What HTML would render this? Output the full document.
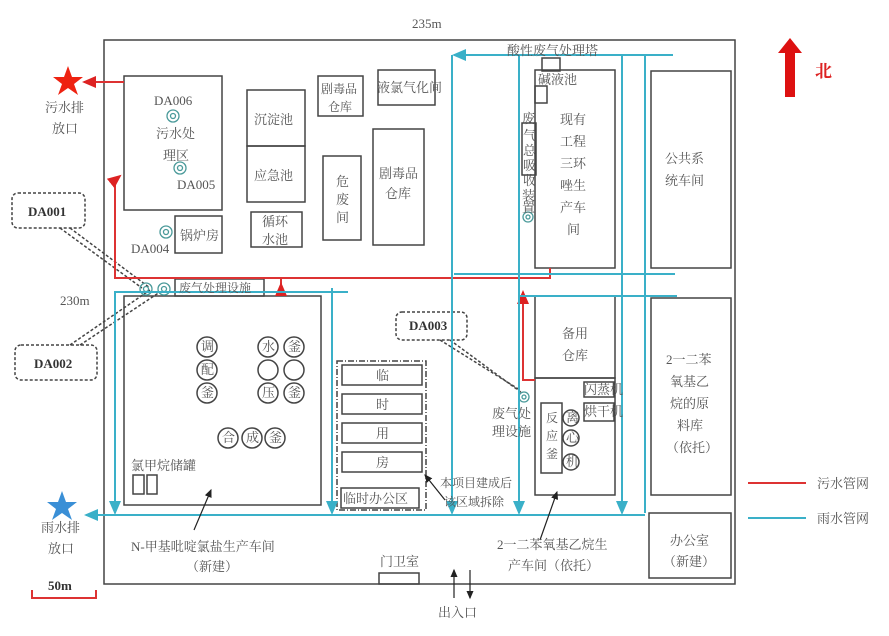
<!DOCTYPE html>
<html><head><meta charset="utf-8"><style>
html,body{margin:0;padding:0;background:#fff}
svg{display:block}
text{font-family:"Liberation Serif","Noto Serif CJK SC","Noto Sans CJK SC",serif;fill:#555;font-size:13px}
.b{font-weight:bold;fill:#333}
</style></head><body>
<svg width="889" height="636" viewBox="0 0 889 636" xmlns="http://www.w3.org/2000/svg">
<defs>
<marker id="ac" markerWidth="8" markerHeight="8" refX="6" refY="4" orient="auto"><path d="M0,1 L7,4 L0,7z" fill="#3ab0c8"/></marker>
<marker id="ar" markerWidth="8" markerHeight="8" refX="6" refY="4" orient="auto"><path d="M0,1 L7,4 L0,7z" fill="#d22"/></marker>
<marker id="ak" markerWidth="8" markerHeight="8" refX="6" refY="4" orient="auto"><path d="M0,1 L7,4 L0,7z" fill="#222"/></marker>
</defs>
<g fill="none" stroke="#444" stroke-width="1.5">
<rect x="104" y="40" width="631" height="544"/>
<rect x="124" y="76" width="98" height="134"/>
<rect x="247" y="90" width="58" height="56"/><rect x="247" y="146" width="58" height="56"/>
<rect x="318" y="76" width="45" height="40"/><rect x="378" y="70" width="57" height="35"/>
<rect x="323" y="156" width="38" height="84"/><rect x="373" y="129" width="51" height="116"/>
<rect x="251" y="212" width="51" height="35"/><rect x="175" y="216" width="47" height="37"/>
<rect x="175" y="279" width="89" height="17"/>
<rect x="124" y="296" width="197" height="209"/>
<rect x="133" y="475" width="11" height="19"/><rect x="147" y="475" width="10" height="19"/>
<rect x="342" y="365" width="80" height="20"/><rect x="342" y="394" width="80" height="20"/>
<rect x="342" y="423" width="80" height="20"/><rect x="342" y="452" width="80" height="20"/>
<rect x="341" y="488" width="78" height="20"/>
<rect x="535" y="70" width="80" height="198"/><rect x="542" y="58" width="18" height="13"/><rect x="535" y="86" width="12" height="17"/>
<rect x="522" y="123" width="14" height="52"/>
<rect x="535" y="296" width="80" height="82"/><rect x="535" y="378" width="80" height="117"/>
<rect x="541" y="403" width="21" height="70"/>
<rect x="584" y="382" width="30" height="15"/><rect x="584" y="403" width="30" height="18"/>
<rect x="651" y="71" width="80" height="197"/><rect x="651" y="298" width="80" height="197"/><rect x="649" y="513" width="82" height="65"/>
<rect x="379" y="573" width="40" height="11"/>
</g>
<rect x="337" y="361" width="89" height="149" fill="none" stroke="#444" stroke-width="1.5" stroke-dasharray="6,2,1,2"/>
<g fill="none" stroke="#444" stroke-width="1.5" stroke-dasharray="3,2">
<rect x="12" y="193" width="73" height="35" rx="6"/><rect x="15" y="345" width="82" height="35" rx="6"/><rect x="396" y="312" width="71" height="28" rx="6"/>
<path d="M70,228 L150,288 M60,228 L142,288 M80,345 L160,292 M70,345 L150,290 M450,340 L522,393 M440,340 L520,390"/>
</g>
<!-- circles -->
<g fill="none" stroke="#444" stroke-width="1.5">
<circle cx="207" cy="347" r="10"/><circle cx="207" cy="370" r="10"/><circle cx="207" cy="393" r="10"/>
<circle cx="268" cy="347" r="10"/><circle cx="294" cy="347" r="10"/><circle cx="268" cy="370" r="10"/><circle cx="294" cy="370" r="10"/><circle cx="268" cy="393" r="10"/><circle cx="294" cy="393" r="10"/>
<circle cx="228" cy="438" r="10"/><circle cx="252" cy="438" r="10"/><circle cx="275" cy="438" r="10"/>
<circle cx="571" cy="418" r="8"/><circle cx="571" cy="438" r="8"/><circle cx="571" cy="462" r="8"/>
</g>
<g fill="none" stroke="#4a9a9a" stroke-width="1.3">
<circle cx="173" cy="116" r="6"/><circle cx="173" cy="116" r="2.5"/>
<circle cx="180" cy="168" r="6"/><circle cx="180" cy="168" r="2.5"/>
<circle cx="166" cy="232" r="6"/><circle cx="166" cy="232" r="2.5"/>
<circle cx="146" cy="289" r="6"/><circle cx="146" cy="289" r="2.5"/>
<circle cx="164" cy="289" r="6"/><circle cx="164" cy="289" r="2.5"/>
<circle cx="528" cy="217" r="5"/><circle cx="528" cy="217" r="2"/>
<circle cx="524" cy="397" r="5"/><circle cx="524" cy="397" r="2"/>
</g>
<!-- red pipes -->
<g fill="none" stroke="#d33" stroke-width="2">
<path d="M124,82 L84,82" marker-end="url(#ar)"/>
<path d="M550,268 L550,278 L115,278 L115,180 L120,176" marker-end="url(#ar)"/>
<path d="M281,278 L281,286"/><path d="M281,292 L281,284" marker-end="url(#ar)"/>
<path d="M535,380 L523,380 L523,292" marker-end="url(#ar)"/>
<path d="M748,483 L806,483"/>
<path d="M32,590 L32,598 L96,598 L96,590"/>
</g>
<!-- cyan pipes -->
<g fill="none" stroke="#3ab0c8" stroke-width="2">
<path d="M673,55 L454,55" marker-end="url(#ac)"/>
<path d="M452,55 L452,513" marker-end="url(#ac)"/>
<path d="M519,55 L519,513" marker-end="url(#ac)"/>
<path d="M622,55 L622,513" marker-end="url(#ac)"/>
<path d="M645,55 L645,513"/>
<path d="M675,274 L454,274"/>
<path d="M677,296 L520,296"/>
<path d="M348,292 L115,292 L115,513" marker-end="url(#ac)"/>
<path d="M332,288 L332,513" marker-end="url(#ac)"/>
<path d="M645,515 L86,515" marker-end="url(#ac)"/>
<path d="M748,518 L806,518"/>
</g>
<!-- black arrows -->
<g stroke="#222" stroke-width="1.2" fill="none">
<path d="M194,530 L211,490" marker-end="url(#ak)"/>
<path d="M445,500 L425,475" marker-end="url(#ak)"/>
<path d="M540,540 L557,492" marker-end="url(#ak)"/>
<path d="M454,598 L454,570" marker-end="url(#ak)"/>
<path d="M470,570 L470,598" marker-end="url(#ak)"/>
</g>
<!-- stars and north -->
<polygon points="68,66 72,77 83,77 74,84 78,95 68,88 58,95 62,84 53,77 64,77" fill="#e21"/>
<polygon points="62,491 66,502 77,502 68,509 72,520 62,513 52,520 56,509 47,502 58,502" fill="#3a8fd6"/>
<polygon points="790,38 802,53 795,53 795,97 785,97 785,53 778,53" fill="#d11"/>
<text x="815" y="77" style="font-size:17px;fill:#d22;font-weight:bold">北</text>
<!-- texts -->
<text x="412" y="28">235m</text>
<text x="60" y="305">230m</text>
<text x="45" y="112">污水排</text><text x="52" y="133">放口</text>
<text x="41" y="532">雨水排</text><text x="48" y="553">放口</text>
<text x="48" y="590" class="b">50m</text>
<text x="154" y="105">DA006</text><text x="156" y="138">污水处</text><text x="163" y="160">理区</text><text x="177" y="189">DA005</text>
<text x="131" y="253">DA004</text><text x="180" y="240">锅炉房</text>
<text x="254" y="124">沉淀池</text><text x="254" y="180">应急池</text>
<text x="321" y="93" style="font-size:12px">剧毒品</text><text x="328" y="111" style="font-size:12px">仓库</text>
<text x="377" y="92">液氯气化间</text>
<text x="336" y="186">危</text><text x="336" y="204">废</text><text x="336" y="222">间</text>
<text x="379" y="178">剧毒品</text><text x="385" y="198">仓库</text>
<text x="262" y="226">循环</text><text x="262" y="244">水池</text>
<text x="179" y="292" style="font-size:12px">废气处理设施</text>
<text x="28" y="216" class="b">DA001</text><text x="34" y="368" class="b">DA002</text><text x="409" y="330" class="b">DA003</text>
<g style="font-size:11px"><text x="201" y="351">调</text><text x="201" y="374">配</text><text x="201" y="397">釜</text>
<text x="262" y="351">水</text><text x="288" y="351">釜</text><text x="262" y="397">压</text><text x="288" y="397">釜</text>
<text x="222" y="442">合</text><text x="246" y="442">成</text><text x="269" y="442">釜</text></g>
<text x="131" y="470">氯甲烷储罐</text>
<text x="131" y="551">N-甲基吡啶氯盐生产车间</text><text x="186" y="571">（新建）</text>
<text x="376" y="380">临</text><text x="376" y="409">时</text><text x="376" y="438">用</text><text x="376" y="467">房</text>
<text x="343" y="503">临时办公区</text>
<text x="440" y="487" style="font-size:12px">本项目建成后</text><text x="444" y="506" style="font-size:12px">该区域拆除</text>
<text x="380" y="566">门卫室</text><text x="438" y="617">出入口</text>
<text x="507" y="55">酸性废气处理塔</text>
<text x="538" y="84">碱液池</text>
<g style="font-size:12px"><text x="522" y="123">废</text><text x="523" y="140">气</text><text x="523" y="155">总</text><text x="523" y="170">吸</text><text x="523" y="185">收</text><text x="522" y="200">装</text><text x="522" y="212">置</text></g>
<text x="560" y="124">现有</text><text x="560" y="146">工程</text><text x="560" y="168">三环</text><text x="560" y="190">唑生</text><text x="560" y="212">产车</text><text x="567" y="234">间</text>
<text x="665" y="163">公共系</text><text x="665" y="185">统车间</text>
<text x="562" y="338">备用</text><text x="562" y="360">仓库</text>
<text x="546" y="422" style="font-size:12px">反</text><text x="546" y="440" style="font-size:12px">应</text><text x="546" y="458" style="font-size:12px">釜</text>
<g style="font-size:11px"><text x="566" y="422">离</text><text x="566" y="442">心</text><text x="566" y="466">机</text>
<text x="584" y="394">闪蒸机</text><text x="584" y="416">烘干机</text></g>
<text x="492" y="418">废气处</text><text x="492" y="436">理设施</text>
<text x="666" y="364">2一二苯</text><text x="670" y="386">氧基乙</text><text x="670" y="408">烷的原</text><text x="677" y="430">料库</text><text x="666" y="452">（依托）</text>
<text x="670" y="545">办公室</text><text x="663" y="566">（新建）</text>
<text x="497" y="549">2一二苯氧基乙烷生</text><text x="508" y="570">产车间（依托）</text>
<text x="817" y="488">污水管网</text><text x="817" y="523">雨水管网</text>
</svg>
</body></html>
